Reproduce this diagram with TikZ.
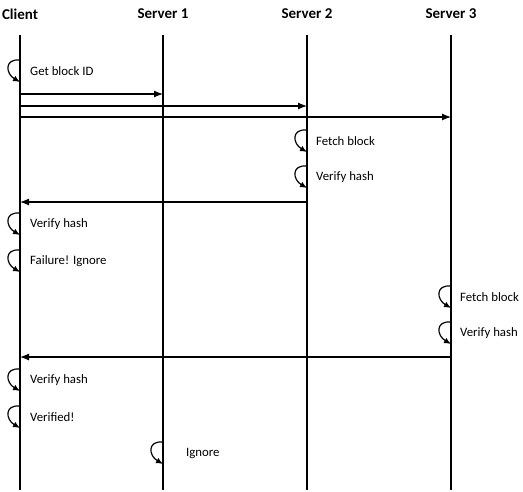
\documentclass[tikz,border=0pt]{standalone}
\usepackage{fontspec}
\setmainfont{Carlito}
\usetikzlibrary{positioning}
\usetikzlibrary{shapes,arrows.meta}
\tikzstyle{actor} = [font=\fontsize{15}{17}\selectfont\bfseries, inner sep=0pt]
\tikzstyle{life} = [draw, line width=1.2pt]
\tikzstyle{msg} = [draw, line width=1.2pt, -{Latex[length=9pt,width=7pt]}]
\tikzstyle{selfcall} = [draw, line width=1.2pt, -{Latex[length=7pt,width=6pt]}, out=175, in=150, looseness=1.9]
\tikzstyle{note} = [anchor=west, font=\fontsize{12.8}{15}\selectfont, inner sep=0pt]

\begin{document}
\begin{tikzpicture}[x=1pt,y=-1pt]
    \useasboundingbox (0,0) rectangle (523,491);
    \node[actor](client) at (20,14){Client};
    \node[actor](s1) at (163,14){Server 1};
    \node[actor](s2) at (307,14){Server 2};
    \node[actor](s3) at (451,14){Server 3};
    \coordinate (top) at (0,35);
    \coordinate (bottom) at (0,490);
    \path[life] (client |- top) -- (client |- bottom);
    \path[life] (s1 |- top) -- (s1 |- bottom);
    \path[life] (s2 |- top) -- (s2 |- bottom);
    \path[life] (s3 |- top) -- (s3 |- bottom);
    % client asks everyone
    \node[note](getid) at (30,71){Get block ID};
    \path[selfcall] (client |- getid) ++(0,-11) to ++(0,22);
    \coordinate (m1) at (0,94);
    \coordinate (m2) at (0,106);
    \coordinate (m3) at (0,117);
    \path[msg] (client |- m1) -- (s1 |- m1);
    \path[msg] (client |- m2) -- (s2 |- m2);
    \path[msg] (client |- m3) -- (s3 |- m3);
    % server 2 answers first
    \node[note](fetch2) at (316,141){Fetch block};
    \path[selfcall] (s2 |- fetch2) ++(0,-11) to ++(0,22);
    \node[note](verify2) at (316,177){Verify hash};
    \path[selfcall] (s2 |- verify2) ++(0,-11) to ++(0,22);
    \coordinate (r2) at (0,202);
    \path[msg] (s2 |- r2) -- (client |- r2);
    \node[note](cverify1) at (30,224){Verify hash};
    \path[selfcall] (client |- cverify1) ++(0,-11) to ++(0,22);
    \node[note](failure) at (30,261){Failure! Ignore};
    \path[selfcall] (client |- failure) ++(0,-11) to ++(0,22);
    % server 3 answers
    \node[note](fetch3) at (460,297){Fetch block};
    \path[selfcall] (s3 |- fetch3) ++(0,-11) to ++(0,22);
    \node[note](verify3) at (460,333){Verify hash};
    \path[selfcall] (s3 |- verify3) ++(0,-11) to ++(0,22);
    \coordinate (r3) at (0,357);
    \path[msg] (s3 |- r3) -- (client |- r3);
    \node[note](cverify2) at (30,380){Verify hash};
    \path[selfcall] (client |- cverify2) ++(0,-11) to ++(0,22);
    \node[note](verified) at (30,417){Verified!};
    \path[selfcall] (client |- verified) ++(0,-11) to ++(0,22);
    % server 1 too late
    \node[note](ignore) at (186,453){Ignore};
    \path[selfcall] (s1 |- ignore) ++(0,-11) to ++(0,22);
\end{tikzpicture}
\end{document}
